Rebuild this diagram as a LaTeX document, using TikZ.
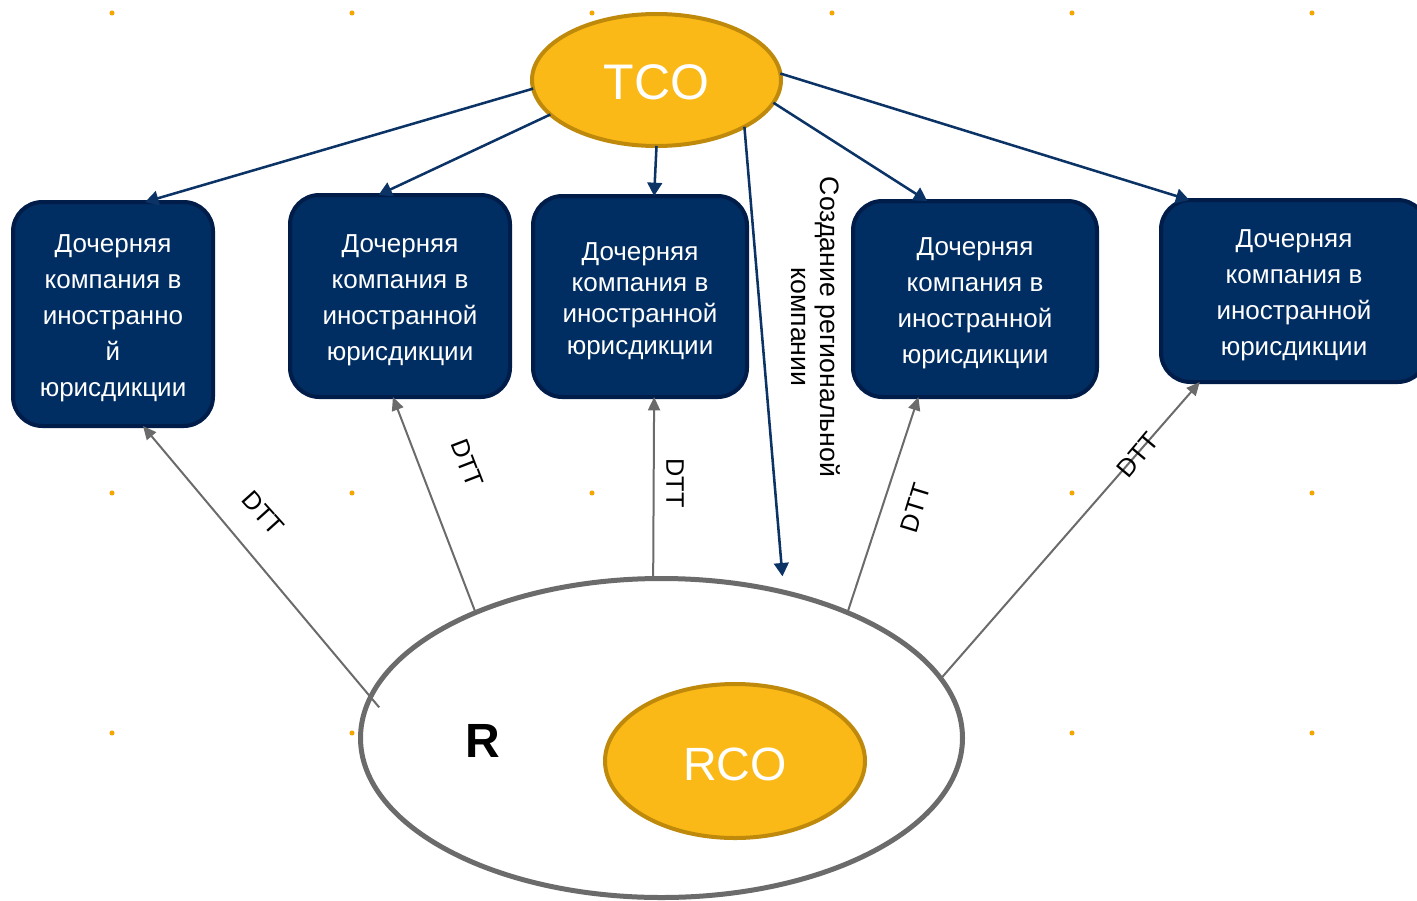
\documentclass[tikz,border=0pt]{standalone}
\usepackage{fontspec}
\setmainfont{Liberation Sans}
\usetikzlibrary{arrows.meta,shapes.geometric}
\definecolor{navyfill}{HTML}{002D62}
\definecolor{navyedge}{HTML}{001D4A}
\definecolor{navyline}{HTML}{0B3366}
\definecolor{goldfill}{HTML}{FBB917}
\definecolor{goldedge}{HTML}{BF8A0B}
\definecolor{greyline}{HTML}{6B6B6B}
\definecolor{dotcol}{HTML}{F5A500}
\newcommand{\mytopstrut}{\rule{0pt}{20pt}}
\begin{document}
\begin{tikzpicture}[x=0.75pt,y=-0.75pt,
  subbox/.style={draw=navyedge, line width=3pt, fill=navyfill, rounded corners=22pt,
    text=white, align=center, inner sep=0pt, outer sep=0pt,
    font=\fontsize{19.5pt}{27pt}\selectfont},
  goldell/.style={ellipse, draw=goldedge, line width=3pt, fill=goldfill, text=white,
    inner sep=0pt, outer sep=0pt},
  navyarrow/.style={draw=navyline, line width=1.9pt, -{Triangle[length=10pt,width=11pt]}},
  greyarrow/.style={draw=greyline, line width=1.5pt, -{Triangle[length=10pt,width=9pt]}},
  dttlab/.style={font=\fontsize{19pt}{21pt}\selectfont, inner sep=0pt},
  gdot/.style={fill=dotcol}
]
\useasboundingbox (0,0) rectangle (1417,900);

% background dots
\foreach \px/\py in {112/13,352/13,592/13,832/13,1072/13,1312/13,
  112/493,352/493,592/493,1072/493,1312/493,
  112/733,352/733,1072/733,1312/733}
  \fill[gdot] (\px,\py) circle[radius=1.9pt];

% big ellipse R
\node[ellipse, draw=greyline, line width=3.75pt, fill=white, minimum width=451.5pt,
  minimum height=239.25pt, inner sep=0pt, outer sep=0pt] (R) at (661.5,738) {};
\node[font=\bfseries\fontsize{36pt}{38pt}\selectfont, inner sep=0pt] (rlab) at (483,741) {R};

% RCO
\node[goldell, minimum width=195pt, minimum height=115.5pt,
  font=\fontsize{35pt}{37pt}\selectfont] (rco) at (735,761) {\rule{0pt}{29pt}RCO};

% TCO
\node[goldell, minimum width=186.75pt, minimum height=99pt,
  font=\fontsize{37.5pt}{40pt}\selectfont] (tco) at (656.5,80) {\rule{0pt}{30pt}TCO};

% subsidiary boxes
\node[subbox, minimum width=150pt, minimum height=168pt] (b1) at (113,314)
  {\mytopstrut Дочерняя\\компания в\\иностранно\\й\\юрисдикции};
\node[subbox, minimum width=165pt, minimum height=151.5pt] (b2) at (400,296)
  {\mytopstrut Дочерняя\\компания в\\иностранной\\юрисдикции};
\node[subbox, minimum width=160.5pt, minimum height=150.75pt,
  font=\fontsize{19.5pt}{23.5pt}\selectfont] (b3) at (640,296.5)
  {\mytopstrut Дочерняя\\компания в\\иностранной\\юрисдикции};
\node[subbox, minimum width=183pt, minimum height=147pt] (b4) at (975,299)
  {\mytopstrut Дочерняя\\компания в\\иностранной\\юрисдикции};
\node[subbox, minimum width=199.5pt, minimum height=136.5pt] (b5) at (1294,291)
  {\mytopstrut Дочерняя\\компания в\\иностранной\\юрисдикции};

% navy arrows from TCO
\draw[navyarrow] (tco.184) -- (b1.74);
\draw[navyarrow] (tco.198) -- (b2.102);
\draw[navyarrow] (tco.270) -- (b3.82);
\draw[navyarrow, shorten >=12pt] (tco.332) -- (R.50);
\draw[navyarrow] (tco.349) -- (b4.116);
\draw[navyarrow] (tco.3) -- (b5.139);

% grey DTT arrows from R
\draw[greyarrow, shorten <=-10pt] (R.172) -- (b1.285);
\draw[greyarrow] (R.146) -- (b2.266);
\draw[greyarrow] (R.93) -- (b3.278);
\draw[greyarrow] (R.34) -- (b4.240);
\draw[greyarrow] (R.12) -- (b5.224);

% labels
\node[dttlab, rotate=-48] (d1) at (263,513) {DTT};
\node[dttlab, rotate=-69] (d2) at (467,463) {DTT};
\node[dttlab, rotate=-90] (d3) at (675,483) {DTT};
\node[dttlab, rotate=73] (d4) at (915,508) {DTT};
\node[dttlab, rotate=50] (d5) at (1138,455) {DTT};
\node[rotate=-90, align=center, inner sep=0pt,
  font=\fontsize{20pt}{22pt}\selectfont] (create) at (816,327)
  {Создание региональной\\компании};
\end{tikzpicture}
\end{document}
